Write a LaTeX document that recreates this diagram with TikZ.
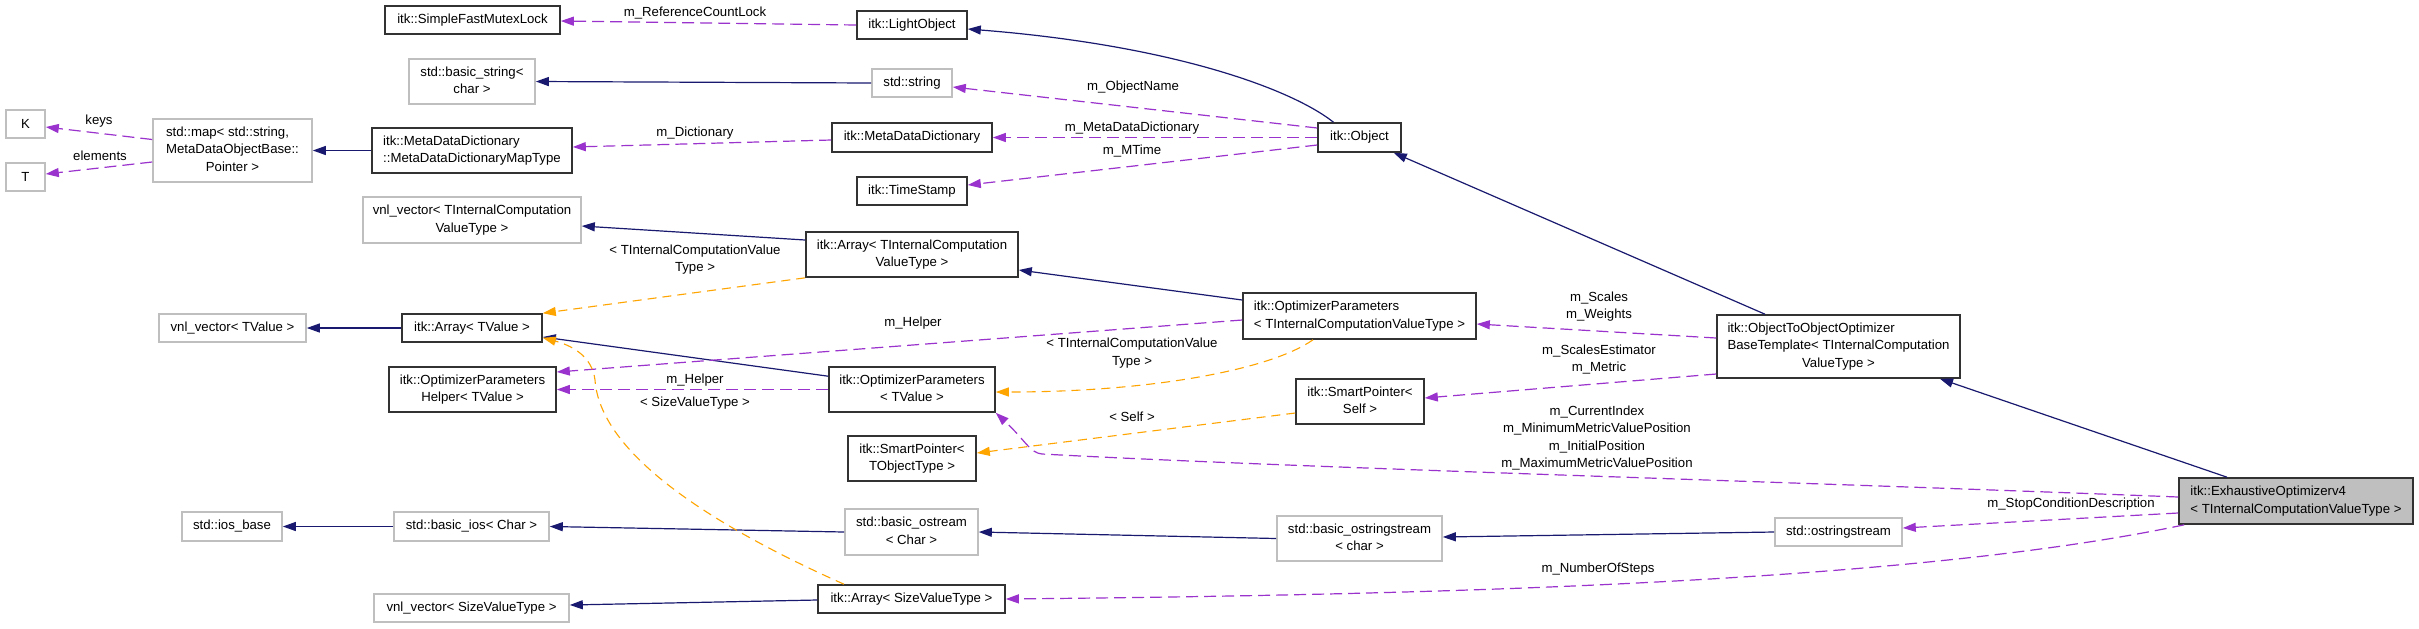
\documentclass[tikz,border=0pt]{standalone}
\usepackage{fontspec}
\setmainfont{Liberation Sans}
\usetikzlibrary{arrows.meta,calc}
\definecolor{navy}{RGB}{25,25,112}
\definecolor{orch}{RGB}{154,50,205}
\definecolor{orng}{RGB}{255,165,0}
\definecolor{lgrey}{RGB}{191,191,191}
\definecolor{dgrey}{RGB}{50,50,50}
\newcommand\twoL[2]{\begin{tabular}{@{}l@{}}#1\\\multicolumn{1}{@{}c@{}}{#2}\end{tabular}}
\newcommand\threeL[3]{\begin{tabular}{@{}l@{}}#1\\#2\\\multicolumn{1}{@{}c@{}}{#3}\end{tabular}}
\begin{document}
\begin{tikzpicture}[x=0.5pt,y=-0.5pt,
  every node/.style={font=\fontsize{6.6}{8.65}\selectfont, inner sep=0pt},
  box/.style 2 args={draw=dgrey, line width=0.8pt, minimum width=#1*0.5pt, minimum height=#2*0.5pt},
  gbox/.style 2 args={draw=lgrey, line width=0.8pt, minimum width=#1*0.5pt, minimum height=#2*0.5pt},
  inh/.style={draw=navy, line width=0.6pt, -{Triangle[length=6.5pt,width=4.5pt]}},
  use/.style={draw=orch, line width=0.6pt, dash pattern=on 6pt off 3pt, -{Triangle[length=6.5pt,width=4.5pt]}},
  tpl/.style={draw=orng, line width=0.55pt, dash pattern=on 4.5pt off 3pt, -{Triangle[length=6.5pt,width=4.5pt]}}]
\fill[white] (0,0) rectangle (2419,628);
\useasboundingbox (0,0) rectangle (2419,628);

% nodes
\node[box={175}{28}] (sfml) at (472.5,20) {itk::SimpleFastMutexLock};
\node[box={110}{28}] (light) at (912,25) {itk::LightObject};
\node[gbox={126}{45}] (bstr) at (472,81.5) {\twoL{std::basic\_string<}{char >}};
\node[gbox={80}{28}] (str) at (912,83) {std::string};
\node[gbox={39}{28}] (K) at (25.5,124) {K};
\node[gbox={39}{28}] (T) at (25.5,177) {T};
\node[gbox={159}{63}] (map) at (232.5,150.5) {\threeL{std::map< std::string,}{MetaDataObjectBase::}{Pointer >}};
\node[box={200}{45}] (mapty) at (472,150.5) {\twoL{itk::MetaDataDictionary}{::MetaDataDictionaryMapType}};
\node[box={160}{29}] (mdd) at (912,137.5) {itk::MetaDataDictionary};
\node[box={83}{29}] (obj) at (1359.5,137.5) {itk::Object};
\node[box={110}{28}] (ts) at (912,191) {itk::TimeStamp};
\node[gbox={218}{46}] (vnlTIC) at (472,220) {\twoL{vnl\_vector< TInternalComputation}{ValueType >}};
\node[box={212}{45}] (arrTIC) at (912,254.5) {\twoL{itk::Array< TInternalComputation}{ValueType >}};
\node[box={233}{46}] (opTIC) at (1359.5,316) {\twoL{itk::OptimizerParameters}{< TInternalComputationValueType >}};
\node[box={243}{63}] (o2o) at (1838.5,346.5) {\threeL{itk::ObjectToObjectOptimizer}{BaseTemplate< TInternalComputation}{ValueType >}};
\node[gbox={147}{28}] (vnlTV) at (232.5,328) {vnl\_vector< TValue >};
\node[box={140}{28}] (arrTV) at (472,328) {itk::Array< TValue >};
\node[box={167}{45}] (helper) at (472.5,389.5) {\twoL{itk::OptimizerParameters}{Helper< TValue >}};
\node[box={166}{45}] (opTV) at (912,389.5) {\twoL{itk::OptimizerParameters}{< TValue >}};
\node[box={128}{45}] (spSelf) at (1360,401.5) {\twoL{itk::SmartPointer<}{Self >}};
\node[box={128}{45}] (spT) at (912,458.5) {\twoL{itk::SmartPointer<}{TObjectType >}};
\node[box={234}{46}, fill=lgrey] (exh) at (2296,501) {\twoL{itk::ExhaustiveOptimizerv4}{< TInternalComputationValueType >}};
\node[gbox={100}{29}] (iosb) at (232,526.5) {std::ios\_base};
\node[gbox={155}{29}] (bios) at (471.5,526.5) {std::basic\_ios< Char >};
\node[gbox={133}{46}] (bost) at (911.5,532) {\twoL{std::basic\_ostream}{< Char >}};
\node[gbox={165}{45}] (bostr) at (1359.5,538.5) {\twoL{std::basic\_ostringstream}{< char >}};
\node[gbox={127}{28}] (ostr) at (1838.5,532) {std::ostringstream};
\node[gbox={195}{28}] (vnlSV) at (471.5,608) {vnl\_vector< SizeValueType >};
\node[box={187}{28}] (arrSV) at (911.5,599) {itk::Array< SizeValueType >};

% inheritance
\draw[inh] ($(obj.north)+(-26,0)$) .. controls (1290,88) and (1170,45) .. ($(light.east)+(0,4)$);
\draw[inh] (str.west) -- (bstr.east);
\draw[inh] (mapty.west) -- (map.east);
\draw[inh] ($(o2o.north)+(-73.5,0)$) -- ($(obj.south east)+(-8,0)$);
\draw[inh] ($(arrTIC.west)+(0,-14.5)$) -- ($(vnlTIC.east)+(0,6)$);
\draw[inh] ($(opTIC.west)+(0,-16)$) -- ($(arrTIC.east)+(0,15.5)$);
\draw[inh] ($(exh.north)+(-69,0)$) -- ($(o2o.south)+(101.5,0)$);
\draw[inh] (arrTV.west) -- (vnlTV.east);
\draw[inh] ($(opTV.north west)+(0,10)$) -- ($(arrTV.east)+(0,9)$);
\draw[inh] (bios.west) -- (iosb.east);
\draw[inh] (bost.west) -- (bios.east);
\draw[inh] (bostr.west) -- (bost.east);
\draw[inh] (ostr.west) -- ($(bostr.east)+(0,-1.5)$);
\draw[inh] ($(arrSV.west)+(0,1)$) -- ($(vnlSV.east)+(0,-3)$);

% usage
\draw[use] (light.west) -- ($(sfml.east)+(0,1)$);
\draw[use] ($(obj.west)+(0,-9.5)$) -- ($(str.east)+(0,4)$);
\draw[use] (obj.west) -- (mdd.east);
\draw[use] ($(obj.west)+(0,7.5)$) -- ($(ts.east)+(0,-6)$);
\draw[use] ($(mdd.west)+(0,2.5)$) -- ($(mapty.east)+(0,-3.5)$);
\draw[use] ($(map.west)+(0,-11)$) -- ($(K.east)+(0,3)$);
\draw[use] ($(map.west)+(0,11.5)$) -- ($(T.east)+(0,-3)$);
\draw[use] ($(opTIC.west)+(0,4)$) -- ($(helper.east)+(0,-17.5)$);
\draw[use] (opTV.west) -- (helper.east);
\draw[use] ($(o2o.west)+(0,-8.5)$) -- ($(opTIC.east)+(0,8)$);
\draw[use] ($(o2o.west)+(0,27.5)$) -- ($(spSelf.east)+(0,-3.5)$);
\draw[use] ($(exh.west)+(0,-4)$) .. controls (1800,482) and (1300,468) .. (1042,454) .. controls (1030,453) and (1025,440) .. (opTV.south east);
\draw[use] ($(exh.west)+(0,12)$) -- ($(ostr.east)+(0,-4)$);
\draw[use] ($(exh.south west)+(6,0)$) .. controls (1900,585) and (1400,595) .. (arrSV.east);

% template instantiation
\draw[tpl] (arrTIC.south west) -- (arrTV.north east);
\draw[tpl] ($(opTIC.south)+(-46.5,0)$) .. controls (1270,370) and (1150,392) .. ($(opTV.east)+(0,2.5)$);
\draw[tpl] ($(spSelf.west)+(0,11.5)$) -- ($(spT.east)+(0,-5.5)$);
\draw[tpl] ($(arrSV.north)+(-67.5,0)$) .. controls (700,520) and (600,450) .. (595,380) .. controls (592,355) and (570,345) .. ($(arrTV.south east)+(0,-5)$);

% labels
\node (lRef) at (695,13) {m\_ReferenceCountLock};
\node (lDict) at (695,133) {m\_Dictionary};
\node (lKeys) at (99,121) {keys};
\node (lElem) at (100,156) {elements};
\node (lObjN) at (1133,87) {m\_ObjectName};
\node (lMDD) at (1132,128) {m\_MetaDataDictionary};
\node (lMT) at (1132,151) {m\_MTime};
\node[align=center] (lTIC1) at (695,259.5) {< TInternalComputationValue\\Type >};
\node (lHelp1) at (913,323) {m\_Helper};
\node (lHelp2) at (695,380) {m\_Helper};
\node (lSV) at (695,403) {< SizeValueType >};
\node[align=center] (lTIC2) at (1132,353) {< TInternalComputationValue\\Type >};
\node (lSelf) at (1132,417) {< Self >};
\node[align=center] (lSc) at (1599,306.5) {m\_Scales\\m\_Weights};
\node[align=center] (lSE) at (1599,359.5) {m\_ScalesEstimator\\m\_Metric};
\node[align=center] (lCI) at (1597,438) {m\_CurrentIndex\\m\_MinimumMetricValuePosition\\m\_InitialPosition\\m\_MaximumMetricValuePosition};
\node (lStop) at (2071,504) {m\_StopConditionDescription};
\node (lNum) at (1598,569) {m\_NumberOfSteps};
\end{tikzpicture}
\end{document}
